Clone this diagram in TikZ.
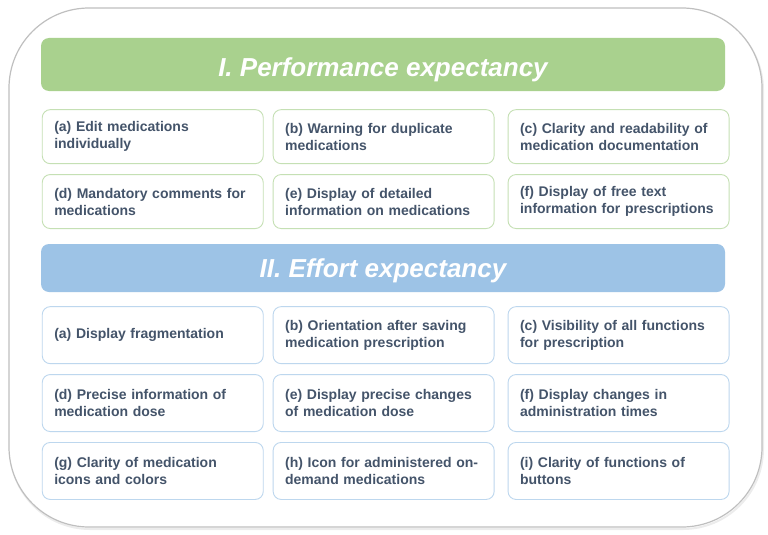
\documentclass[tikz,border=0pt]{standalone}
\usepackage{fontspec}
\setmainfont{Liberation Sans}
\usepackage{xcolor}
\usepackage{tikz}
\usetikzlibrary{positioning,calc}

\definecolor{perfgreen}{HTML}{A9D18E}
\definecolor{perfline}{HTML}{C5E0B4}
\definecolor{effblue}{HTML}{9DC3E6}
\definecolor{effline}{HTML}{BDD7EE}
\definecolor{itemtext}{HTML}{44546A}

\begin{document}
\begin{tikzpicture}[
    x=1pt, y=1pt,
    item/.style={rectangle, rounded corners=8pt, draw, line width=0.9pt, fill=white,
                 text width=197pt, inner xsep=12pt, inner ysep=2pt, align=left,
                 text=itemtext, font=\bfseries\fontsize{14}{17}\selectfont},
    gbox/.style={item, draw=perfline, minimum height=54pt},
    bbox/.style={item, draw=effline, minimum height=57pt},
    hdr/.style={rectangle, rounded corners=8pt, minimum width=684pt, text=white,
                text depth=0pt, font=\bfseries\itshape\fontsize{26}{30}\selectfont},
    frame/.style={draw=gray!50, line width=1.2pt, rounded corners=80pt}
]
\useasboundingbox (0,0) rectangle (768,-535);

% outer frame
\draw[gray!15, line width=2pt, rounded corners=80pt] (10,-10) rectangle (763,-529);
\draw[frame, fill=white] (9,-8) rectangle (762,-527);

% =========================================================
% I. Performance expectancy
% =========================================================
\node[hdr, fill=perfgreen, minimum height=53pt, text height=25pt] (perf) at (383,-64.5)
   {I. Performance expectancy};

\node[gbox, anchor=north west] (pa) at ([xshift=1pt, yshift=-18pt]perf.south west)
   {(a) Edit medications\\individually};
\node[gbox, right=9pt of pa] (pb) {(b) Warning for duplicate\\medications};
\node[gbox, right=13pt of pb] (pc) {(c) Clarity and readability of\\medication documentation};
\node[gbox, below=10pt of pa] (pd) {(d) Mandatory comments for\\medications};
\node[gbox, below=10pt of pb] (pe) {(e) Display of detailed\\information on medications};
\node[gbox, below=10pt of pc] (pf) {(f) Display of free text\\information for prescriptions};

% =========================================================
% II. Effort expectancy
% =========================================================
\node[hdr, fill=effblue, minimum height=48pt, text height=19pt] (eff) at (383,-268)
   {II. Effort expectancy};

\node[bbox, anchor=north west] (ea) at ([xshift=1pt, yshift=-14pt]eff.south west)
   {(a) Display fragmentation};
\node[bbox, right=9pt of ea] (eb) {(b) Orientation after saving\\medication prescription};
\node[bbox, right=13pt of eb] (ec) {(c) Visibility of all functions\\for prescription};
\node[bbox, below=10pt of ea] (ed) {(d) Precise information of\\medication dose};
\node[bbox, below=10pt of eb] (ee) {(e) Display precise changes\\of medication dose};
\node[bbox, below=10pt of ec] (ef) {(f) Display changes in\\administration times};
\node[bbox, below=10pt of ed] (eg) {(g) Clarity of medication\\icons and colors};
\node[bbox, below=10pt of ee] (eh) {(h) Icon for administered on-\\demand medications};
\node[bbox, below=10pt of ef] (ei) {(i) Clarity of functions of\\buttons};

\end{tikzpicture}
\end{document}
